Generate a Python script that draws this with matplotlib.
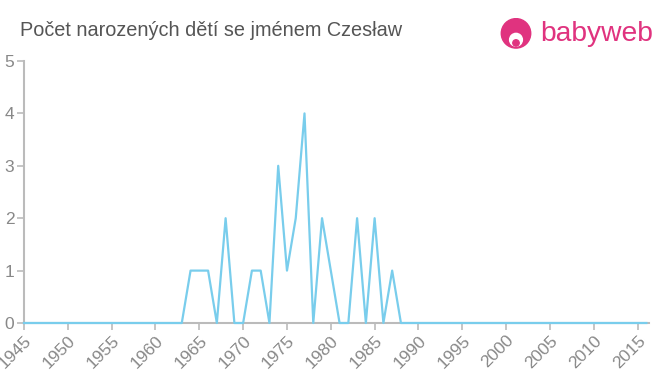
import matplotlib
matplotlib.use("Agg")
from matplotlib import pyplot as plt
from matplotlib.patches import Circle

plt.rcParams['font.family'] = ['Liberation Sans', 'DejaVu Sans']

# data: births per year (zeros outside listed years)
years = list(range(1945, 2017))
nonzero = {1964: 1, 1965: 1, 1966: 1, 1968: 2, 1971: 1, 1972: 1,
           1974: 3, 1975: 1, 1976: 2, 1977: 4, 1979: 2, 1980: 1,
           1983: 2, 1985: 2, 1987: 1}
counts = [nonzero.get(y, 0) for y in years]
xticks = list(range(1945, 2016, 5))
yticks = [0, 1, 2, 3, 4, 5]

title = 'Počet narozených dětí se jménem Czesław'

fig = plt.figure(figsize=(6.6, 3.75), dpi=100)
ax = fig.add_axes([24 / 660, 1 - 323 / 375, 625 / 660, 262 / 375])

ax.plot(years, counts, color='#79cdec', linewidth=1.6, clip_on=False, zorder=3)

ax.set_xlim(1945, 2016.3)
ax.set_ylim(0, 5)
ax.set_xticks(xticks)
ax.set_yticks(yticks)
ax.set_xticklabels([str(x) for x in xticks], rotation=45, ha='right',
                   rotation_mode='anchor')

for side in ['top', 'right']:
    ax.spines[side].set_visible(False)
for side in ['left', 'bottom']:
    ax.spines[side].set_color('#bbbbbb')
    ax.spines[side].set_linewidth(1.5)
ax.tick_params(colors='#bbbbbb', labelcolor='#888888', labelsize=12.5,
               length=5, width=1.2)
ax.tick_params(axis='y', pad=2)
ax.tick_params(axis='x', pad=2)

fig.text(20 / 660, 1 - 30 / 375, title, fontsize=14.3, color='#555555',
         va='center', ha='left')

# logo
pink = '#e0337f'
logo_ax = fig.add_axes([500 / 660, 1 - 50 / 375, 32 / 660, 32 / 375])
logo_ax.set_xlim(0, 1)
logo_ax.set_ylim(0, 1)
logo_ax.set_aspect('equal')
logo_ax.axis('off')
logo_ax.add_patch(Circle((0.5, 0.52), 0.46, color=pink))
logo_ax.add_patch(Circle((0.5, 0.32), 0.2, color='white'))
logo_ax.add_patch(Circle((0.5, 0.22), 0.1, color=pink))
fig.text(540 / 660, 1 - 34 / 375, 'babyweb', fontsize=20.3, color=pink,
         va='center', ha='left')

fig.savefig('out.png', dpi=100)
